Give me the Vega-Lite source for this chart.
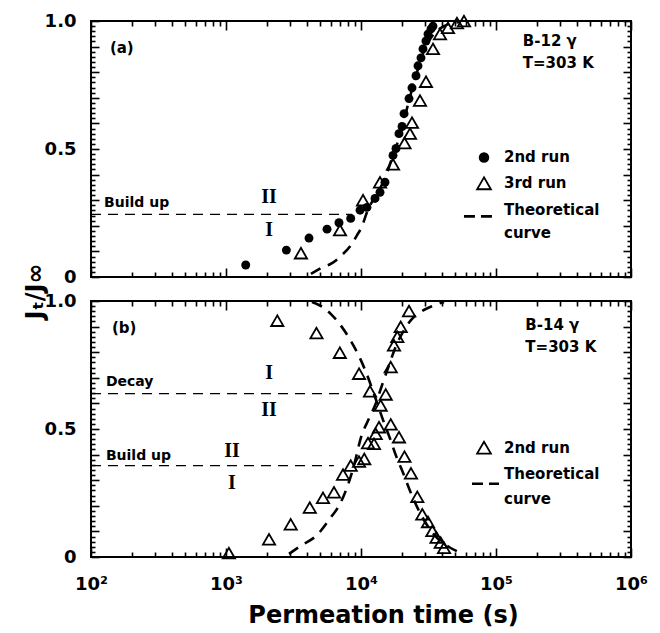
{
  "$schema": "https://vega.github.io/schema/vega-lite/v6.json",
  "background": "white",
  "padding": {"left": 22, "top": 11, "right": 5, "bottom": 5},
  "bounds": "flush",
  "spacing": 24,
  "config": {
    "view": {"stroke": "black", "strokeWidth": 2},
    "axis": {"domain": false, "grid": false, "ticks": true, "tickColor": "black", "tickWidth": 1.6, "tickOpacity": 1, "labelColor": "black", "labelFont": "DejaVu Sans", "labelFontWeight": "bold", "labelFontSize": 18, "titleFont": "DejaVu Sans", "titleFontWeight": "bold", "titleFontSize": 24, "titleColor": "black", "labelOverlap": false, "labelFlush": false}
  },
  "datasets": {
    "a2": [
      {"t": 1400, "j": 0.047}, {"t": 2800, "j": 0.105}, {"t": 4120, "j": 0.152}, {"t": 5600, "j": 0.187}, {"t": 6870, "j": 0.212}, {"t": 8390, "j": 0.229}, {"t": 9840, "j": 0.261}, {"t": 11070, "j": 0.272}, {"t": 12700, "j": 0.307}, {"t": 13830, "j": 0.331}, {"t": 15050, "j": 0.37}, {"t": 17260, "j": 0.475}, {"t": 18160, "j": 0.502}, {"t": 19110, "j": 0.56}, {"t": 20140, "j": 0.588}, {"t": 20840, "j": 0.638}, {"t": 22680, "j": 0.697}, {"t": 23860, "j": 0.739}, {"t": 25550, "j": 0.786}, {"t": 26440, "j": 0.825}, {"t": 27820, "j": 0.856}, {"t": 28790, "j": 0.891}, {"t": 30290, "j": 0.922}, {"t": 31350, "j": 0.949}, {"t": 33020, "j": 0.969}, {"t": 34140, "j": 0.98}
    ],
    "a3": [
      {"t": 3590, "j": 0.093}, {"t": 6990, "j": 0.183}, {"t": 10350, "j": 0.30}, {"t": 13830, "j": 0.37}, {"t": 17260, "j": 0.44}, {"t": 21000, "j": 0.523}, {"t": 23060, "j": 0.56}, {"t": 23860, "j": 0.603}, {"t": 27350, "j": 0.689}, {"t": 30290, "j": 0.763}, {"t": 34140, "j": 0.891}, {"t": 38480, "j": 0.949}, {"t": 44080, "j": 0.973}, {"t": 51400, "j": 0.992}, {"t": 57930, "j": 1.0}
    ],
    "acurve": [
      {"t": 4260, "j": 0.012}, {"t": 5050, "j": 0.035}, {"t": 6100, "j": 0.054}, {"t": 7230, "j": 0.086}, {"t": 8430, "j": 0.125}, {"t": 9340, "j": 0.163}, {"t": 10170, "j": 0.198}, {"t": 11070, "j": 0.253}, {"t": 12480, "j": 0.307}, {"t": 14800, "j": 0.377}, {"t": 17260, "j": 0.475}, {"t": 20140, "j": 0.58}, {"t": 22680, "j": 0.69}, {"t": 26000, "j": 0.80}, {"t": 29300, "j": 0.883}, {"t": 33570, "j": 0.94}, {"t": 41200, "j": 0.98}, {"t": 53200, "j": 0.996}
    ],
    "ahline": [{"t0": 100, "t1": 8600, "j": 0.245}],
    "alegdash": [{"t0": 57900, "t1": 93300, "j": 0.237}],
    "alegcircle": [{"t": 81500, "j": 0.467}],
    "alegtri": [{"t": 81500, "j": 0.366}],
    "asmall": [{"t": 125, "j": 0.288, "label": "Build up"}],
    "aroman": [{"t": 2085, "j": 0.311, "label": "II"}, {"t": 2085, "j": 0.183, "label": "I"}],
    "atext": [
      {"t": 138, "j": 0.895, "label": "(a)"}, {"t": 158000, "j": 0.922, "label": "B-12 γ"}, {"t": 158000, "j": 0.837, "label": "T=303 K"},
      {"t": 114600, "j": 0.467, "label": "2nd run"}, {"t": 114600, "j": 0.366, "label": "3rd run"}, {"t": 114600, "j": 0.261, "label": "Theoretical"}, {"t": 114600, "j": 0.171, "label": "curve"}
    ],
    "b2": [
      {"t": 1050, "j": 0.015}, {"t": 2083, "j": 0.069}, {"t": 3015, "j": 0.128}, {"t": 4175, "j": 0.193}, {"t": 5230, "j": 0.231}, {"t": 6310, "j": 0.253}, {"t": 7360, "j": 0.322}, {"t": 8390, "j": 0.357}, {"t": 9670, "j": 0.373}, {"t": 10570, "j": 0.383}, {"t": 11270, "j": 0.445}, {"t": 12480, "j": 0.442}, {"t": 12850, "j": 0.481}, {"t": 13590, "j": 0.507}, {"t": 13990, "j": 0.592}, {"t": 15240, "j": 0.635}, {"t": 16600, "j": 0.742}, {"t": 17550, "j": 0.827}, {"t": 18580, "j": 0.86}, {"t": 19690, "j": 0.899}, {"t": 22680, "j": 0.961},
      {"t": 2399, "j": 0.923}, {"t": 4680, "j": 0.875}, {"t": 6970, "j": 0.798}, {"t": 9670, "j": 0.716}, {"t": 11660, "j": 0.647}, {"t": 16600, "j": 0.518}, {"t": 19110, "j": 0.468}, {"t": 20990, "j": 0.392}, {"t": 23450, "j": 0.327}, {"t": 26120, "j": 0.235}, {"t": 28450, "j": 0.167}, {"t": 31350, "j": 0.137}, {"t": 33760, "j": 0.102}, {"t": 36250, "j": 0.076}, {"t": 38930, "j": 0.056}, {"t": 41200, "j": 0.036}
    ],
    "bcurve": [
      {"c": "build", "t": 2929, "j": 0.012}, {"c": "build", "t": 3656, "j": 0.047}, {"c": "build", "t": 4640, "j": 0.082}, {"c": "build", "t": 6100, "j": 0.161}, {"c": "build", "t": 6870, "j": 0.2}, {"c": "build", "t": 7870, "j": 0.271}, {"c": "build", "t": 8870, "j": 0.357}, {"c": "build", "t": 10000, "j": 0.467}, {"c": "build", "t": 11460, "j": 0.541}, {"c": "build", "t": 12700, "j": 0.592}, {"c": "build", "t": 14310, "j": 0.671}, {"c": "build", "t": 16120, "j": 0.749}, {"c": "build", "t": 18160, "j": 0.824}, {"c": "build", "t": 20830, "j": 0.886}, {"c": "build", "t": 23450, "j": 0.925}, {"c": "build", "t": 26900, "j": 0.953}, {"c": "build", "t": 33570, "j": 0.98}, {"c": "build", "t": 41200, "j": 0.996},
      {"c": "decay", "t": 4335, "j": 0.996}, {"c": "decay", "t": 5060, "j": 0.98}, {"c": "decay", "t": 5990, "j": 0.949}, {"c": "decay", "t": 7230, "j": 0.898}, {"c": "decay", "t": 8430, "j": 0.843}, {"c": "decay", "t": 9670, "j": 0.784}, {"c": "decay", "t": 10890, "j": 0.722}, {"c": "decay", "t": 12060, "j": 0.659}, {"c": "decay", "t": 13360, "j": 0.592}, {"c": "decay", "t": 14800, "j": 0.525}, {"c": "decay", "t": 16400, "j": 0.463}, {"c": "decay", "t": 18160, "j": 0.396}, {"c": "decay", "t": 20480, "j": 0.329}, {"c": "decay", "t": 23060, "j": 0.259}, {"c": "decay", "t": 26440, "j": 0.188}, {"c": "decay", "t": 30830, "j": 0.125}, {"c": "decay", "t": 36540, "j": 0.075}, {"c": "decay", "t": 44840, "j": 0.039}, {"c": "decay", "t": 55050, "j": 0.016}
    ],
    "bhline": [{"t0": 100, "t1": 8600, "j": 0.638}, {"t0": 100, "t1": 6300, "j": 0.357}],
    "blegdash": [{"t0": 66400, "t1": 105200, "j": 0.286}],
    "blegtri": [{"t": 81500, "j": 0.427}],
    "bsmall": [{"t": 129, "j": 0.682, "label": "Decay"}, {"t": 129, "j": 0.396, "label": "Build up"}],
    "broman": [{"t": 2085, "j": 0.718, "label": "I"}, {"t": 2085, "j": 0.573, "label": "II"}, {"t": 1108, "j": 0.416, "label": "II"}, {"t": 1108, "j": 0.29, "label": "I"}],
    "btext": [
      {"t": 143, "j": 0.894, "label": "(b)"}, {"t": 165000, "j": 0.906, "label": "B-14 γ"}, {"t": 165000, "j": 0.82, "label": "T=303 K"},
      {"t": 114600, "j": 0.427, "label": "2nd run"}, {"t": 114600, "j": 0.325, "label": "Theoretical"}, {"t": 114600, "j": 0.227, "label": "curve"}
    ]
  },
  "vconcat": [
    {
      "width": 540, "height": 256,
      "resolve": {"axis": {"x": "independent", "y": "independent"}},
      "layer": [
        {
          "data": {"name": "a2"},
          "mark": {"type": "point", "shape": "circle", "filled": true, "color": "black", "size": 80, "opacity": 1},
          "encoding": {
            "x": {"field": "t", "type": "quantitative", "scale": {"type": "log", "domain": [100, 1000000]},
              "axis": {"orient": "bottom", "title": null, "labels": false, "values": [100, 1000, 10000, 100000, 1000000], "tickSize": 9, "offset": -9}},
            "y": {"field": "j", "type": "quantitative", "scale": {"domain": [0, 1]},
              "axis": {"orient": "left", "title": "Jₜ/J∞", "titleAlign": "center", "titleY": 270, "titleX": -52,
                "values": [0, 0.1, 0.2, 0.3, 0.4, 0.5, 0.6, 0.7, 0.8, 0.9, 1],
                "labelExpr": "datum.value==0?'0':datum.value==0.5?'0.5':datum.value==1?'1.0':''",
                "labelPadding": 15, "tickSize": 8, "offset": -8}}
          }
        },
        {
          "data": {"name": "a3"},
          "mark": {"type": "point", "shape": "triangle-up", "filled": false, "stroke": "black", "strokeWidth": 1.8, "size": 150, "opacity": 1},
          "encoding": {
            "x": {"field": "t", "type": "quantitative", "scale": {"type": "log", "domain": [100, 1000000]},
              "axis": {"orient": "bottom", "title": null, "labels": false, "tickSize": 5, "offset": -5, "values": [200,300,400,500,600,700,800,900,2000,3000,4000,5000,6000,7000,8000,9000,20000,30000,40000,50000,60000,70000,80000,90000,200000,300000,400000,500000,600000,700000,800000,900000]}},
            "y": {"field": "j", "type": "quantitative", "scale": {"domain": [0, 1]},
              "axis": {"orient": "left", "title": null, "labels": false, "tickSize": 4, "offset": -4,
                "values": [0.02,0.04,0.06,0.08,0.12,0.14,0.16,0.18,0.22,0.24,0.26,0.28,0.32,0.34,0.36,0.38,0.42,0.44,0.46,0.48,0.52,0.54,0.56,0.58,0.62,0.64,0.66,0.68,0.72,0.74,0.76,0.78,0.82,0.84,0.86,0.88,0.92,0.94,0.96,0.98]}}
          }
        },
        {
          "data": {"name": "acurve"},
          "mark": {"type": "line", "color": "black", "strokeWidth": 2.6, "strokeDash": [11, 8], "interpolate": "monotone"},
          "encoding": {
            "x": {"field": "t", "type": "quantitative", "scale": {"type": "log", "domain": [100, 1000000]},
              "axis": {"orient": "top", "title": null, "labels": false, "values": [100, 1000, 10000, 100000, 1000000], "tickSize": 9, "offset": -9}},
            "y": {"field": "j", "type": "quantitative", "scale": {"domain": [0, 1]},
              "axis": {"orient": "right", "title": null, "labels": false, "values": [0, 0.1, 0.2, 0.3, 0.4, 0.5, 0.6, 0.7, 0.8, 0.9, 1], "tickSize": 8, "offset": -8}}
          }
        },
        {
          "data": {"name": "ahline"},
          "mark": {"type": "rule", "color": "black", "strokeWidth": 1.2, "strokeDash": [10, 7]},
          "encoding": {
            "x": {"field": "t0", "type": "quantitative", "scale": {"type": "log", "domain": [100, 1000000]},
              "axis": {"orient": "top", "title": null, "labels": false, "tickSize": 5, "offset": -5, "values": [200,300,400,500,600,700,800,900,2000,3000,4000,5000,6000,7000,8000,9000,20000,30000,40000,50000,60000,70000,80000,90000,200000,300000,400000,500000,600000,700000,800000,900000]}},
            "x2": {"field": "t1"},
            "y": {"field": "j", "type": "quantitative", "scale": {"domain": [0, 1]},
              "axis": {"orient": "right", "title": null, "labels": false, "tickSize": 4, "offset": -4,
                "values": [0.02,0.04,0.06,0.08,0.12,0.14,0.16,0.18,0.22,0.24,0.26,0.28,0.32,0.34,0.36,0.38,0.42,0.44,0.46,0.48,0.52,0.54,0.56,0.58,0.62,0.64,0.66,0.68,0.72,0.74,0.76,0.78,0.82,0.84,0.86,0.88,0.92,0.94,0.96,0.98]}}
          }
        },
        {
          "data": {"name": "alegdash"},
          "mark": {"type": "rule", "color": "black", "strokeWidth": 2.6, "strokeDash": [11, 6]},
          "encoding": {
            "x": {"field": "t0", "type": "quantitative", "scale": {"type": "log"}, "axis": null},
            "x2": {"field": "t1"},
            "y": {"field": "j", "type": "quantitative", "axis": null}
          }
        },
        {
          "data": {"name": "alegcircle"},
          "mark": {"type": "point", "shape": "circle", "filled": true, "color": "black", "size": 110, "opacity": 1},
          "encoding": {
            "x": {"field": "t", "type": "quantitative", "scale": {"type": "log"}, "axis": null},
            "y": {"field": "j", "type": "quantitative", "axis": null}
          }
        },
        {
          "data": {"name": "alegtri"},
          "mark": {"type": "point", "shape": "triangle-up", "filled": false, "stroke": "black", "strokeWidth": 1.8, "size": 190, "opacity": 1},
          "encoding": {
            "x": {"field": "t", "type": "quantitative", "scale": {"type": "log"}, "axis": null},
            "y": {"field": "j", "type": "quantitative", "axis": null}
          }
        },
        {
          "data": {"name": "asmall"},
          "mark": {"type": "text", "font": "DejaVu Sans", "fontWeight": "bold", "fontSize": 14, "align": "left", "baseline": "middle", "color": "black"},
          "encoding": {
            "x": {"field": "t", "type": "quantitative", "scale": {"type": "log"}, "axis": null},
            "y": {"field": "j", "type": "quantitative", "axis": null},
            "text": {"field": "label"}
          }
        },
        {
          "data": {"name": "aroman"},
          "mark": {"type": "text", "font": "Liberation Serif", "fontWeight": "bold", "fontSize": 20, "align": "center", "baseline": "middle", "color": "black"},
          "encoding": {
            "x": {"field": "t", "type": "quantitative", "scale": {"type": "log"}, "axis": null},
            "y": {"field": "j", "type": "quantitative", "axis": null},
            "text": {"field": "label"}
          }
        },
        {
          "data": {"name": "atext"},
          "mark": {"type": "text", "font": "DejaVu Sans", "fontWeight": "bold", "fontSize": 15, "align": "left", "baseline": "middle", "color": "black"},
          "encoding": {
            "x": {"field": "t", "type": "quantitative", "scale": {"type": "log"}, "axis": null},
            "y": {"field": "j", "type": "quantitative", "axis": null},
            "text": {"field": "label"}
          }
        }
      ]
    },
    {
      "width": 540, "height": 256,
      "resolve": {"axis": {"x": "independent", "y": "independent"}},
      "layer": [
        {
          "data": {"name": "b2"},
          "mark": {"type": "point", "shape": "triangle-up", "filled": false, "stroke": "black", "strokeWidth": 1.8, "size": 150, "opacity": 1},
          "encoding": {
            "x": {"field": "t", "type": "quantitative", "scale": {"type": "log", "domain": [100, 1000000]},
              "axis": {"orient": "bottom", "title": "Permeation time (s)", "titleAlign": "center", "titleX": 292, "titlePadding": 10, "labelPadding": 18, "tickSize": 9, "offset": -9,
                "values": [100, 1000, 10000, 100000, 1000000],
                "labelExpr": "datum.value==100?'10²':datum.value==1000?'10³':datum.value==10000?'10⁴':datum.value==100000?'10⁵':'10⁶'"}},
            "y": {"field": "j", "type": "quantitative", "scale": {"domain": [0, 1]},
              "axis": {"orient": "left", "title": null,
                "values": [0, 0.1, 0.2, 0.3, 0.4, 0.5, 0.6, 0.7, 0.8, 0.9, 1],
                "labelExpr": "datum.value==0?'0':datum.value==0.5?'0.5':datum.value==1?'1.0':''",
                "labelPadding": 15, "tickSize": 8, "offset": -8}}
          }
        },
        {
          "data": {"name": "bcurve"},
          "mark": {"type": "line", "color": "black", "strokeWidth": 2.6, "strokeDash": [11, 8], "interpolate": "monotone"},
          "encoding": {
            "x": {"field": "t", "type": "quantitative", "scale": {"type": "log", "domain": [100, 1000000]},
              "axis": {"orient": "bottom", "title": null, "labels": false, "tickSize": 5, "offset": -5, "values": [200,300,400,500,600,700,800,900,2000,3000,4000,5000,6000,7000,8000,9000,20000,30000,40000,50000,60000,70000,80000,90000,200000,300000,400000,500000,600000,700000,800000,900000]}},
            "y": {"field": "j", "type": "quantitative", "scale": {"domain": [0, 1]},
              "axis": {"orient": "left", "title": null, "labels": false, "tickSize": 4, "offset": -4,
                "values": [0.02,0.04,0.06,0.08,0.12,0.14,0.16,0.18,0.22,0.24,0.26,0.28,0.32,0.34,0.36,0.38,0.42,0.44,0.46,0.48,0.52,0.54,0.56,0.58,0.62,0.64,0.66,0.68,0.72,0.74,0.76,0.78,0.82,0.84,0.86,0.88,0.92,0.94,0.96,0.98]}},
            "detail": {"field": "c"}
          }
        },
        {
          "data": {"name": "bhline"},
          "mark": {"type": "rule", "color": "black", "strokeWidth": 1.2, "strokeDash": [10, 7]},
          "encoding": {
            "x": {"field": "t0", "type": "quantitative", "scale": {"type": "log", "domain": [100, 1000000]},
              "axis": {"orient": "top", "title": null, "labels": false, "values": [100, 1000, 10000, 100000, 1000000], "tickSize": 9, "offset": -9}},
            "x2": {"field": "t1"},
            "y": {"field": "j", "type": "quantitative", "scale": {"domain": [0, 1]},
              "axis": {"orient": "right", "title": null, "labels": false, "values": [0, 0.1, 0.2, 0.3, 0.4, 0.5, 0.6, 0.7, 0.8, 0.9, 1], "tickSize": 8, "offset": -8}}
          }
        },
        {
          "data": {"name": "blegdash"},
          "mark": {"type": "rule", "color": "black", "strokeWidth": 2.6, "strokeDash": [11, 6]},
          "encoding": {
            "x": {"field": "t0", "type": "quantitative", "scale": {"type": "log", "domain": [100, 1000000]},
              "axis": {"orient": "top", "title": null, "labels": false, "tickSize": 5, "offset": -5, "values": [200,300,400,500,600,700,800,900,2000,3000,4000,5000,6000,7000,8000,9000,20000,30000,40000,50000,60000,70000,80000,90000,200000,300000,400000,500000,600000,700000,800000,900000]}},
            "x2": {"field": "t1"},
            "y": {"field": "j", "type": "quantitative", "scale": {"domain": [0, 1]},
              "axis": {"orient": "right", "title": null, "labels": false, "tickSize": 4, "offset": -4,
                "values": [0.02,0.04,0.06,0.08,0.12,0.14,0.16,0.18,0.22,0.24,0.26,0.28,0.32,0.34,0.36,0.38,0.42,0.44,0.46,0.48,0.52,0.54,0.56,0.58,0.62,0.64,0.66,0.68,0.72,0.74,0.76,0.78,0.82,0.84,0.86,0.88,0.92,0.94,0.96,0.98]}}
          }
        },
        {
          "data": {"name": "blegtri"},
          "mark": {"type": "point", "shape": "triangle-up", "filled": false, "stroke": "black", "strokeWidth": 1.8, "size": 190, "opacity": 1},
          "encoding": {
            "x": {"field": "t", "type": "quantitative", "scale": {"type": "log"}, "axis": null},
            "y": {"field": "j", "type": "quantitative", "axis": null}
          }
        },
        {
          "data": {"name": "bsmall"},
          "mark": {"type": "text", "font": "DejaVu Sans", "fontWeight": "bold", "fontSize": 14, "align": "left", "baseline": "middle", "color": "black"},
          "encoding": {
            "x": {"field": "t", "type": "quantitative", "scale": {"type": "log"}, "axis": null},
            "y": {"field": "j", "type": "quantitative", "axis": null},
            "text": {"field": "label"}
          }
        },
        {
          "data": {"name": "broman"},
          "mark": {"type": "text", "font": "Liberation Serif", "fontWeight": "bold", "fontSize": 20, "align": "center", "baseline": "middle", "color": "black"},
          "encoding": {
            "x": {"field": "t", "type": "quantitative", "scale": {"type": "log"}, "axis": null},
            "y": {"field": "j", "type": "quantitative", "axis": null},
            "text": {"field": "label"}
          }
        },
        {
          "data": {"name": "btext"},
          "mark": {"type": "text", "font": "DejaVu Sans", "fontWeight": "bold", "fontSize": 15, "align": "left", "baseline": "middle", "color": "black"},
          "encoding": {
            "x": {"field": "t", "type": "quantitative", "scale": {"type": "log"}, "axis": null},
            "y": {"field": "j", "type": "quantitative", "axis": null},
            "text": {"field": "label"}
          }
        }
      ]
    }
  ]
}
